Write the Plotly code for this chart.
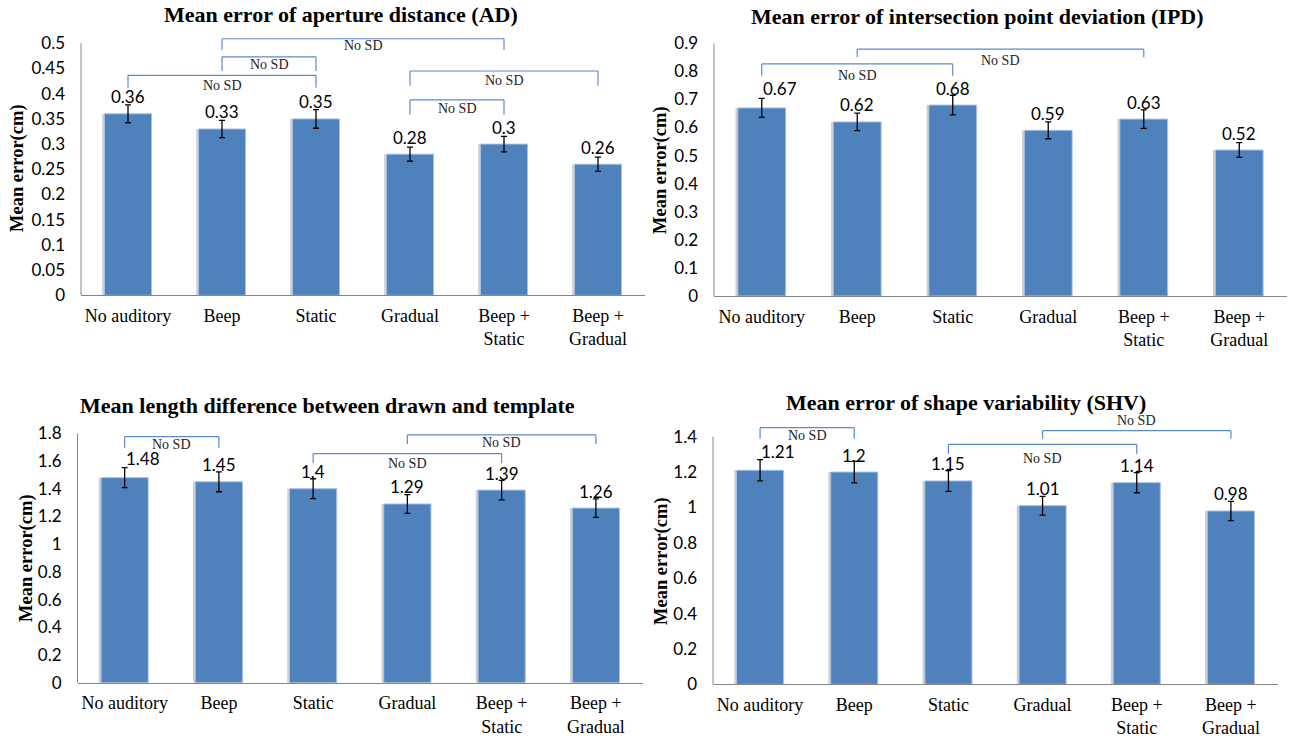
import plotly.graph_objects as go

# ---------------- data ----------------
categories = ["No auditory", "Beep", "Static", "Gradual", "Beep +<br>Static", "Beep +<br>Gradual"]

titles = [
    "Mean error of aperture distance (AD)",
    "Mean error of intersection point deviation (IPD)",
    "Mean length difference between drawn and template",
    "Mean error of shape variability (SHV)",
]
y_title = "Mean error(cm)"
bracket_text = "No SD"

ad_mean = [0.36, 0.33, 0.35, 0.28, 0.30, 0.26]
ad_sd = [0.018, 0.017, 0.0185, 0.014, 0.0155, 0.014]
ipd_mean = [0.67, 0.62, 0.68, 0.59, 0.63, 0.52]
ipd_sd = [0.034, 0.031, 0.035, 0.030, 0.033, 0.026]
len_mean = [1.48, 1.45, 1.40, 1.29, 1.39, 1.26]
len_sd = [0.072, 0.072, 0.072, 0.068, 0.070, 0.067]
shv_mean = [1.21, 1.20, 1.15, 1.01, 1.14, 0.98]
shv_sd = [0.060, 0.061, 0.059, 0.053, 0.057, 0.054]

# y tick steps and top tick
ad_ticks = [0.05, 0.5]
ipd_ticks = [0.1, 0.9]
len_ticks = [0.2, 1.8]
shv_ticks = [0.2, 1.4]

# "No SD" brackets: from-category index, to-category index, top y, leg-bottom y, label y
ad_br_from = [1, 1, 0, 3, 3]
ad_br_to = [4, 2, 2, 5, 4]
ad_br_top = [0.509, 0.473, 0.4365, 0.445, 0.3876]
ad_br_bot = [0.487, 0.445, 0.412, 0.416, 0.358]
ad_br_lab = [0.496, 0.457, 0.416, 0.4266, 0.371]

ipd_br_from = [0, 1]
ipd_br_to = [2, 4]
ipd_br_top = [0.8266, 0.879]
ipd_br_bot = [0.784, 0.850]
ipd_br_lab = [0.785, 0.840]

len_br_from = [0, 3, 2]
len_br_to = [1, 5, 4]
len_br_top = [1.776, 1.788, 1.653]
len_br_bot = [1.696, 1.723, 1.583]
len_br_lab = [1.72, 1.732, 1.583]

shv_br_from = [0, 3, 2]
shv_br_to = [1, 5, 4]
shv_br_top = [1.451, 1.434, 1.357]
shv_br_bot = [1.389, 1.389, 1.302]
shv_br_lab = [1.409, 1.492, 1.277]

# ---------------- style / layout ----------------
W, H = 1289, 741
BAR = "#4F81BD"
BAR_EDGE = "#A7C0E0"
SHADOW = "rgba(120,120,120,0.35)"
BRACKET = "#5B8ACB"
AXIS = "#868686"
SERIF = "Liberation Serif, Times New Roman, serif"
SANS = "Lato, Carlito, Calibri, sans-serif"

# pixel geometry of each panel: x extent, pixel of y=0, pixel of the top tick
panels = [
    dict(mean=ad_mean, sd=ad_sd, ticks=ad_ticks,
         br=(ad_br_from, ad_br_to, ad_br_top, ad_br_bot, ad_br_lab),
         xpx=(81, 645), y0px=295.3, ytickpx=43.3,
         title_xy=(341, 15), ytitle_xy=(17, 168), first_dx=0),
    dict(mean=ipd_mean, sd=ipd_sd, ticks=ipd_ticks,
         br=(ipd_br_from, ipd_br_to, ipd_br_top, ipd_br_bot, ipd_br_lab),
         xpx=(714, 1287), y0px=296.0, ytickpx=43.3,
         title_xy=(977, 17), ytitle_xy=(661, 170), first_dx=18),
    dict(mean=len_mean, sd=len_sd, ticks=len_ticks,
         br=(len_br_from, len_br_to, len_br_top, len_br_bot, len_br_lab),
         xpx=(77.5, 643), y0px=682.7, ytickpx=433.3,
         title_xy=(327, 405), ytitle_xy=(26, 558), first_dx=18),
    dict(mean=shv_mean, sd=shv_sd, ticks=shv_ticks,
         br=(shv_br_from, shv_br_to, shv_br_top, shv_br_bot, shv_br_lab),
         xpx=(713, 1278), y0px=684.3, ytickpx=436.7,
         title_xy=(966, 402), ytitle_xy=(661, 561), first_dx=18),
]

fig = go.Figure()
shapes = []
annotations = []
layout_axes = {}

for k, p in enumerate(panels):
    n = "" if k == 0 else str(k + 1)
    xa, ya = "x" + n, "y" + n
    dt, top = p["ticks"]
    bf, bt, btop, bbot, blab = p["br"]

    # axis range must hold every bracket and label (annotations outside range are hidden)
    rtop = max(top, max(btop) * 1.012, max(blab) * 1.012)
    scale = (p["y0px"] - p["ytickpx"]) / top
    ytop_px = p["y0px"] - rtop * scale
    xdom = [p["xpx"][0] / W, p["xpx"][1] / W]
    ydom = [1 - p["y0px"] / H, 1 - ytop_px / H]

    # soft shadow behind each bar (same data, shifted a little left)
    fig.add_trace(go.Bar(
        x=list(range(len(categories))), y=p["mean"], width=0.5, offset=-0.275,
        marker=dict(color=SHADOW, line=dict(width=0)),
        xaxis=xa, yaxis=ya, showlegend=False, hoverinfo="skip",
    ))
    fig.add_trace(go.Bar(
        x=list(range(len(categories))), y=p["mean"], width=0.5, offset=-0.25,
        marker=dict(color=BAR, line=dict(color=BAR_EDGE, width=1)),
        error_y=dict(type="data", array=p["sd"], visible=True,
                     color="#000000", thickness=1.3, width=3),
        xaxis=xa, yaxis=ya, showlegend=False,
    ))

    layout_axes["xaxis" + n] = dict(
        domain=xdom, anchor=ya, range=[-0.5, len(categories) - 0.5],
        tickmode="array", tickvals=list(range(len(categories))), ticktext=categories,
        showline=True, linecolor=AXIS, linewidth=1, showgrid=False, zeroline=False,
        ticks="", tickfont=dict(family=SERIF, size=18, color="#000000"),
        ticklabelstandoff=4, automargin=False,
    )
    layout_axes["yaxis" + n] = dict(
        domain=ydom, anchor=xa, range=[0, rtop],
        tick0=0, dtick=dt, showline=False, showgrid=False, zeroline=False,
        ticks="", tickfont=dict(family=SANS, size=17, color="#000000"),
        ticklabelstandoff=15, automargin=False,
    )
    # y-axis line from 0 up to the top tick
    shapes.append(dict(type="line", xref=xa + " domain", yref=ya,
                       x0=0, x1=0, y0=0, y1=top,
                       line=dict(color=AXIS, width=1)))

    # brackets
    for i in range(len(bf)):
        for seg in [(bf[i], bbot[i], bf[i], btop[i]),
                    (bf[i], btop[i], bt[i], btop[i]),
                    (bt[i], btop[i], bt[i], bbot[i])]:
            shapes.append(dict(type="line", xref=xa, yref=ya,
                               x0=seg[0], y0=seg[1], x1=seg[2], y1=seg[3],
                               line=dict(color=BRACKET, width=1.2)))
        annotations.append(dict(
            xref=xa, yref=ya, x=(bf[i] + bt[i]) / 2, y=blab[i],
            text=bracket_text, showarrow=False, xanchor="center", yanchor="middle",
            font=dict(family=SERIF, size=14, color="#222222"),
        ))

    # data labels
    for i, v in enumerate(p["mean"]):
        annotations.append(dict(
            xref=xa, yref=ya, x=i, y=v, text=f"{v:g}", showarrow=False,
            xanchor="center", yanchor="middle",
            yshift=19 if (i == 0 and p["first_dx"]) else 17,
            xshift=p["first_dx"] if i == 0 else 0,
            font=dict(family=SANS, size=17, color="#000000"),
        ))

    # panel title
    annotations.append(dict(
        xref="paper", yref="paper", x=p["title_xy"][0] / W, y=1 - p["title_xy"][1] / H,
        text="<b>" + titles[k] + "</b>", showarrow=False,
        xanchor="center", yanchor="middle",
        font=dict(family=SERIF, size=22, color="#000000"),
    ))
    # y-axis title
    annotations.append(dict(
        xref="paper", yref="paper", x=p["ytitle_xy"][0] / W, y=1 - p["ytitle_xy"][1] / H,
        text="<b>" + y_title + "</b>", showarrow=False, textangle=-90,
        xanchor="center", yanchor="middle",
        font=dict(family=SERIF, size=18.5, color="#000000"),
    ))

fig.update_layout(
    template="none",
    width=W, height=H, autosize=False,
    margin=dict(l=0, r=0, t=0, b=0, pad=0),
    paper_bgcolor="white", plot_bgcolor="white",
    barmode="overlay", showlegend=False,
    shapes=shapes, annotations=annotations,
    **layout_axes,
)

fig.write_html(
    "out.html",
    config={"displayModeBar": False},
    post_script="document.body.style.margin='0';document.body.style.padding='0';"
                "document.documentElement.style.overflow='hidden';",
)
